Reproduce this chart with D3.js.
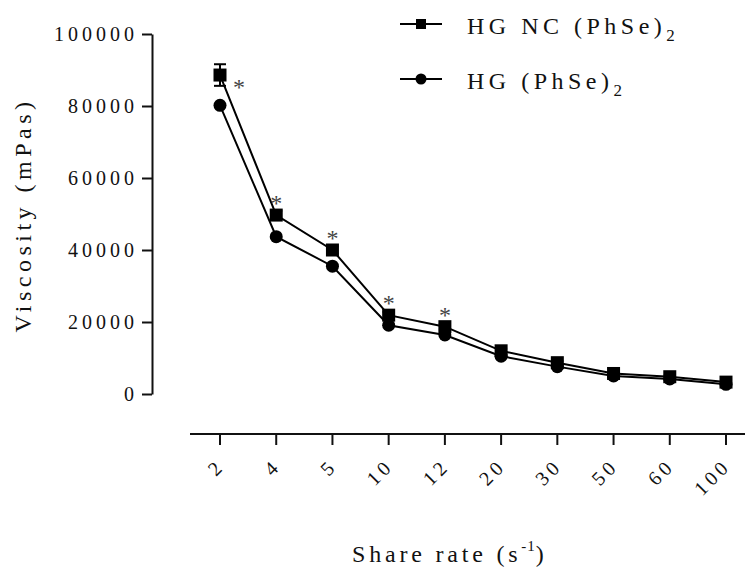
<!DOCTYPE html>
<html>
<head>
<meta charset="utf-8">
<script src="https://cdn.jsdelivr.net/npm/d3@7"></script>
<style>
  html, body { margin: 0; padding: 0; background: #fff; }
  svg { display: block; }
  svg text { font-family: "Liberation Serif", "Times New Roman", Times, "DejaVu Serif", "Noto Serif", serif !important; fill: #111; }
</style>
</head>
<body>
<svg id="chart" width="745" height="567"></svg>
<script>
// Shear rate categories (s^-1)
const shearRates = ["2", "4", "5", "10", "12", "20", "30", "50", "60", "100"];
// Viscosity (mPas), nanocapsule hydrogel
const viscosityNC = [88600, 49700, 40000, 21900, 18700, 12000, 8700, 5700, 4800, 3300];
const errorNC = [3000, 1200, 1000, 900, 800, 600, 500, 400, 400, 300];
// Viscosity (mPas), free compound hydrogel
const viscosityFree = [80200, 43700, 35500, 19100, 16400, 10500, 7600, 5000, 4200, 2700];
// Significant differences between the two formulations
const significant = [true, true, true, true, true, false, false, false, false, false];
const yTicks = [0, 20000, 40000, 60000, 80000, 100000];

const FONT = '"Liberation Serif", "Times New Roman", Times, "DejaVu Serif", serif';
const svg = d3.select("#chart");

const x = d3.scalePoint().domain(shearRates).range([220, 726]);
const y = d3.scaleLinear().domain([0, 100000]).range([394, 34]);

const axisX0 = 190, axisX1 = 756, axisY = 434;
const LS = 4; // letter spacing used throughout

// Y axis
const yAxis = svg.append("g")
  .attr("transform", "translate(152,0)")
  .call(d3.axisLeft(y).tickValues(yTicks).tickSize(10).tickSizeOuter(0).tickPadding(8).tickFormat(d3.format("d")));
yAxis.attr("font-family", FONT);
yAxis.select(".domain").attr("stroke", "#111").attr("stroke-width", 2);
yAxis.selectAll(".tick line").attr("stroke", "#111").attr("stroke-width", 2);
yAxis.selectAll(".tick text")
  .attr("font-size", 20)
  .attr("letter-spacing", LS)
  .attr("dx", LS)
  .attr("fill", "#111");

// X axis
svg.append("line")
  .attr("x1", axisX0).attr("x2", axisX1)
  .attr("y1", axisY).attr("y2", axisY)
  .attr("stroke", "#111").attr("stroke-width", 2);
const xt = svg.append("g").selectAll("g").data(shearRates).join("g")
  .attr("transform", d => `translate(${x(d)},${axisY})`);
xt.append("line").attr("y1", 0).attr("y2", 11).attr("stroke", "#111").attr("stroke-width", 2);
xt.append("text")
  .attr("text-anchor", "end")
  .attr("font-size", 20)
  .attr("letter-spacing", LS)
  .attr("transform", "translate(6,33) rotate(-45)")
  .text(d => d);

// Axis titles
svg.append("text")
  .attr("transform", "translate(31,215) rotate(-90)")
  .attr("text-anchor", "middle")
  .attr("font-size", 24)
  .attr("letter-spacing", 4.5)
  .text("Viscosity (mPas)");

const xTitle = svg.append("text")
  .attr("x", 352).attr("y", 562)
  .attr("font-size", 24)
  .attr("letter-spacing", 3.8);
xTitle.append("tspan").text("Share rate (s");
xTitle.append("tspan").attr("font-size", 15).attr("letter-spacing", 1).attr("dy", -11).text("-1");
xTitle.append("tspan").attr("dy", 11).text(")");

// Lines
const line = d3.line().x((d, i) => x(shearRates[i])).y(d => y(d));
svg.append("path").datum(viscosityFree).attr("d", line)
  .attr("fill", "none").attr("stroke", "#000").attr("stroke-width", 2);
svg.append("path").datum(viscosityNC).attr("d", line)
  .attr("fill", "none").attr("stroke", "#000").attr("stroke-width", 2);

// Error bars (nanocapsule series)
const eb = svg.append("g").selectAll("g").data(viscosityNC).join("g");
eb.append("line")
  .attr("x1", (d, i) => x(shearRates[i])).attr("x2", (d, i) => x(shearRates[i]))
  .attr("y1", (d, i) => y(d + errorNC[i])).attr("y2", (d, i) => y(d - errorNC[i]))
  .attr("stroke", "#000").attr("stroke-width", 2);
[1, -1].forEach(s => {
  eb.append("line")
    .attr("x1", (d, i) => x(shearRates[i]) - 6).attr("x2", (d, i) => x(shearRates[i]) + 6)
    .attr("y1", (d, i) => y(d + s * errorNC[i])).attr("y2", (d, i) => y(d + s * errorNC[i]))
    .attr("stroke", "#000").attr("stroke-width", 2);
});

// Markers
svg.append("g").selectAll("circle").data(viscosityFree).join("circle")
  .attr("cx", (d, i) => x(shearRates[i])).attr("cy", d => y(d)).attr("r", 6.5).attr("fill", "#000");
svg.append("g").selectAll("rect").data(viscosityNC).join("rect")
  .attr("x", (d, i) => x(shearRates[i]) - 6.5).attr("y", d => y(d) - 6.5)
  .attr("width", 13).attr("height", 13).attr("fill", "#000");

// Significance asterisks
svg.append("g").selectAll("text").data(viscosityNC.map((v, i) => ({ v, i })).filter(d => significant[d.i])).join("text")
  .attr("text-anchor", "middle")
  .attr("font-size", 24)
  .attr("x", d => d.i === 0 ? x(shearRates[d.i]) + 19 : x(shearRates[d.i]))
  .attr("y", d => d.i === 0 ? y(d.v) + 20 : y(d.v) - 4)
  .style("fill", "#444")
  .text("*");

// Legend
const legend = [
  { label: "HG NC (PhSe)", shape: "square" },
  { label: "HG (PhSe)", shape: "circle" }
];
const lg = svg.append("g").selectAll("g").data(legend).join("g")
  .attr("transform", (d, i) => `translate(400,${24 + i * 55})`);
lg.append("line").attr("x1", 0).attr("x2", 42).attr("stroke", "#000").attr("stroke-width", 2);
lg.filter(d => d.shape === "square").append("rect")
  .attr("x", 16).attr("y", -5).attr("width", 10).attr("height", 10).attr("fill", "#000");
lg.filter(d => d.shape === "circle").append("circle")
  .attr("cx", 21).attr("r", 5.5).attr("fill", "#000");
const lt = lg.append("text")
  .attr("x", 67).attr("y", 10)
  .attr("font-size", 24)
  .attr("letter-spacing", 4.5);
lt.append("tspan").text(d => d.label);
lt.append("tspan").attr("font-size", 17).attr("dy", 7).text("2");
</script>
</body>
</html>
